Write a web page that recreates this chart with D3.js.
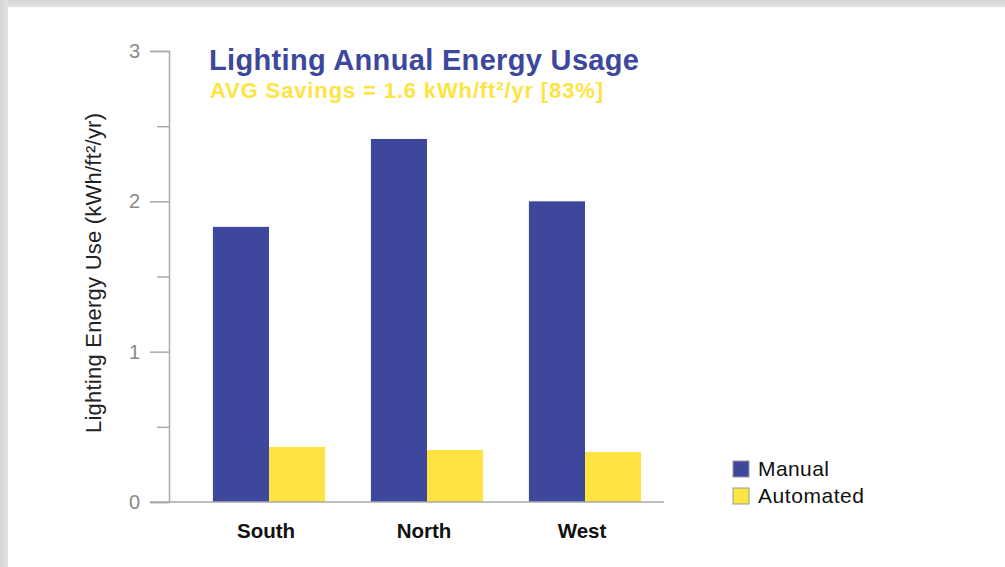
<!DOCTYPE html>
<html>
<head>
<meta charset="utf-8">
<script src="https://cdn.jsdelivr.net/npm/d3@7"></script>
<style>
  html, body { margin: 0; padding: 0; background: #fff; }
  svg { display: block; font-family: "Liberation Sans", Arial, Helvetica, sans-serif; }
</style>
</head>
<body>
<div id="chart"></div>
<script>
var WIDTH = 1005, HEIGHT = 567;

// data
var regions = ["South", "North", "West"];
var seriesNames = ["Manual", "Automated"];
var manualValues = [1.83, 2.415, 2.0];
var automatedValues = [0.366, 0.346, 0.333];
var yTicks = [0, 1, 2, 3];
var yMinorTicks = [0.5, 1.5, 2.5];
var seriesColors = ["#3d479c", "#fde442"];

var SVG = d3.select("#chart").append("svg")
    .attr("width", WIDTH)
    .attr("height", HEIGHT);

// grey frame around the card
var defs = SVG.append("defs");
var gTop = defs.append("linearGradient").attr("id", "gtop").attr("x1", 0).attr("y1", 0).attr("x2", 0).attr("y2", 1);
gTop.append("stop").attr("offset", "0%").attr("stop-color", "#d4d4d4");
gTop.append("stop").attr("offset", "100%").attr("stop-color", "#e2e2e2");
var gLeft = defs.append("linearGradient").attr("id", "gleft").attr("x1", 0).attr("y1", 0).attr("x2", 1).attr("y2", 0);
gLeft.append("stop").attr("offset", "0%").attr("stop-color", "#d4d4d4");
gLeft.append("stop").attr("offset", "100%").attr("stop-color", "#e4e4e4");

SVG.append("rect").attr("x", 0).attr("y", 0).attr("width", WIDTH).attr("height", 7).attr("fill", "url(#gtop)");
SVG.append("rect").attr("x", 0).attr("y", 0).attr("width", 8).attr("height", HEIGHT).attr("fill", "url(#gleft)");

var y = d3.scaleLinear().domain([0, 3]).range([502, 51]);
var x0 = d3.scaleBand().domain(regions).range([190, 664]).paddingInner(0.29).paddingOuter(0.145);
var x1 = d3.scaleBand().domain(seriesNames).range([0, x0.bandwidth()]);
var color = d3.scaleOrdinal().domain(seriesNames).range(seriesColors);

var table = regions.map(function (r, i) {
    return { region: r, values: [
        { key: "Manual", value: manualValues[i] },
        { key: "Automated", value: automatedValues[i] }
    ] };
});

// bars
SVG.append("g").selectAll("g").data(table).join("g")
    .attr("transform", function (d) { return "translate(" + x0(d.region) + ",0)"; })
  .selectAll("rect").data(function (d) { return d.values; }).join("rect")
    .attr("x", function (d) { return x1(d.key); })
    .attr("y", function (d) { return y(d.value); })
    .attr("width", x1.bandwidth())
    .attr("height", function (d) { return y(0) - y(d.value); })
    .attr("fill", function (d) { return color(d.key); });

// y axis
var yAxis = SVG.append("g").attr("transform", "translate(169,0)")
    .call(d3.axisLeft(y).tickValues(yTicks).tickSize(19).tickPadding(10).tickFormat(d3.format("d")));
yAxis.select(".domain").attr("stroke", "#aaa").attr("stroke-width", 1.5);
yAxis.selectAll(".tick line").attr("stroke", "#aaa").attr("stroke-width", 1.5);
yAxis.selectAll(".tick text").attr("fill", "#8a8a8a").attr("font-size", "20px").attr("font-weight", 300);

var yMinor = SVG.append("g").attr("transform", "translate(169,0)")
    .call(d3.axisLeft(y).tickValues(yMinorTicks).tickSize(12).tickFormat(""));
yMinor.select(".domain").remove();
yMinor.selectAll(".tick line").attr("stroke", "#aaa").attr("stroke-width", 1.5);

// baseline
SVG.append("line")
    .attr("x1", 150).attr("x2", 664)
    .attr("y1", y(0)).attr("y2", y(0))
    .attr("stroke", "#aaa").attr("stroke-width", 1.5);

// category labels
SVG.append("g").selectAll("text").data(regions).join("text")
    .attr("x", function (d) { return x0(d) + x0.bandwidth() / 2 - 3; })
    .attr("y", 538)
    .attr("text-anchor", "middle")
    .attr("font-size", "20.5px")
    .attr("font-weight", "bold")
    .attr("fill", "#111")
    .text(function (d) { return d; });

// y axis title
SVG.append("text")
    .attr("transform", "translate(101,273) rotate(-90)")
    .attr("text-anchor", "middle")
    .attr("font-size", "22px")
    .attr("fill", "#222")
    .attr("textLength", 320).attr("lengthAdjust", "spacing")
    .text("Lighting Energy Use (kWh/ft²/yr)");

// titles
SVG.append("text")
    .attr("x", 209).attr("y", 70)
    .attr("font-size", "29px").attr("font-weight", "bold")
    .attr("fill", "#3d479c")
    .attr("textLength", 430).attr("lengthAdjust", "spacing")
    .text("Lighting Annual Energy Usage");
SVG.append("text")
    .attr("x", 210).attr("y", 98)
    .attr("font-size", "22px").attr("font-weight", "bold")
    .attr("fill", "#fde442")
    .attr("textLength", 393).attr("lengthAdjust", "spacing")
    .text("AVG Savings = 1.6 kWh/ft²/yr [83%]");

// legend
var legendWidths = [71, 106];
var legend = SVG.append("g").selectAll("g").data(seriesNames).join("g")
    .attr("transform", function (d, i) { return "translate(733," + (461 + i * 27) + ")"; });
legend.append("rect")
    .attr("width", 16).attr("height", 16)
    .attr("fill", function (d) { return color(d); })
    .attr("stroke", "#999").attr("stroke-width", 1);
legend.append("text")
    .attr("x", 25).attr("y", 15)
    .attr("font-size", "21px")
    .attr("fill", "#111")
    .attr("textLength", function (d, i) { return legendWidths[i]; })
    .attr("lengthAdjust", "spacing")
    .text(function (d) { return d; });
</script>
</body>
</html>
